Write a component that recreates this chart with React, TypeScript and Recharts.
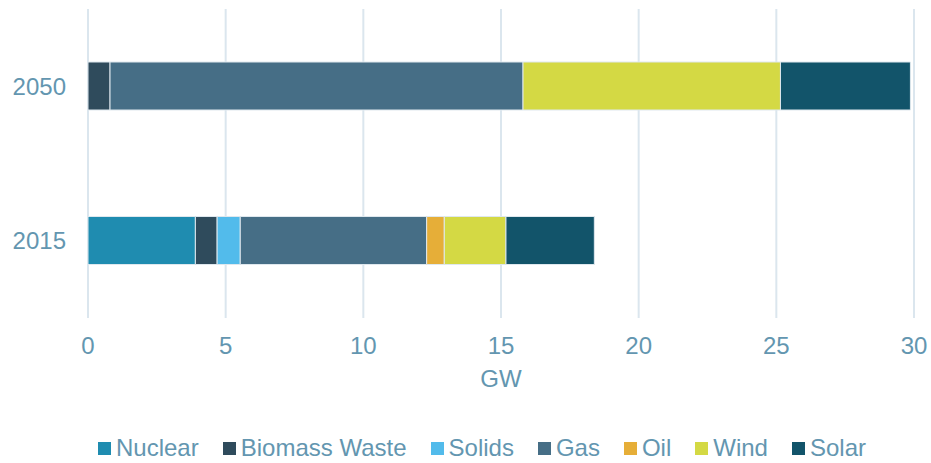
import { BarChart, Bar, XAxis, YAxis, CartesianGrid, Legend } from "recharts"

const years = ["2050", "2015"]
const nuclear = [0, 3.9]
const biomassWaste = [0.8, 0.79]
const solids = [0, 0.84]
const gas = [15.0, 6.77]
const oil = [0, 0.64]
const wind = [9.35, 2.24]
const solar = [4.72, 3.21]
const xTicks = [0, 5, 10, 15, 20, 25, 30]

const series = [
  { key: "nuclear", name: "Nuclear", values: nuclear, color: "#1f8cb0" },
  { key: "biomass", name: "Biomass Waste", values: biomassWaste, color: "#2f4b5c" },
  { key: "solids", name: "Solids", values: solids, color: "#52bbeb" },
  { key: "gas", name: "Gas", values: gas, color: "#466e86" },
  { key: "oil", name: "Oil", values: oil, color: "#e6ae38" },
  { key: "wind", name: "Wind", values: wind, color: "#d4d944" },
  { key: "solar", name: "Solar", values: solar, color: "#12546a" },
]

const data = years.map((year, i) => {
  const row: Record<string, string | number> = { year }
  series.forEach((s) => {
    row[s.key] = s.values[i]
  })
  return row
})

const textColor = "#6396b0"
const font = "'Liberation Sans', Arial, sans-serif"

// legend sits a bit right of centre in the original
const LegendContent = () => (
  <div style={{ display: "flex", justifyContent: "center", alignItems: "center", fontFamily: font, fontSize: 24, color: textColor, height: 30, paddingTop: 5, paddingLeft: 50 }}>
    {series.map((s, i) => (
      <div key={s.key} style={{ display: "flex", alignItems: "center", marginRight: i === series.length - 1 ? 0 : 24 }}>
        <span style={{ display: "inline-block", width: 13, height: 13, background: s.color, marginRight: 5 }} />
        <span>{s.name}</span>
      </div>
    ))}
  </div>
)

export default function App() {
  return (
    <div style={{ position: "absolute", left: 0, top: 0, width: 931, height: 463, background: "#fff" }}>
      <BarChart
        width={931}
        height={463}
        data={data}
        layout="vertical"
        margin={{ top: 9, right: 17, bottom: 0, left: 0 }}
      >
        <CartesianGrid horizontal={false} stroke="#dbe6ee" strokeWidth={2} />
        <XAxis
          type="number"
          domain={[0, 30]}
          ticks={xTicks}
          axisLine={false}
          tickLine={false}
          tickSize={0}
          tickMargin={19}
          height={110}
          tick={{ fill: textColor, fontSize: 24, fontFamily: font }}
          label={{ value: "GW", position: "insideTop", offset: 52, fill: textColor, fontSize: 24, fontFamily: font }}
        />
        <YAxis
          type="category"
          dataKey="year"
          width={88}
          axisLine={false}
          tickLine={false}
          tickSize={0}
          tickMargin={22}
          tick={{ fill: textColor, fontSize: 24, fontFamily: font }}
        />
        <Legend verticalAlign="bottom" content={<LegendContent />} />
        {series.map((s) => (
          <Bar
            key={s.key}
            dataKey={s.key}
            name={s.name}
            stackId="a"
            fill={s.color}
            stroke="#dfe8ee"
            strokeWidth={1}
            barSize={48}
            isAnimationActive={false}
          />
        ))}
      </BarChart>
    </div>
  )
}
